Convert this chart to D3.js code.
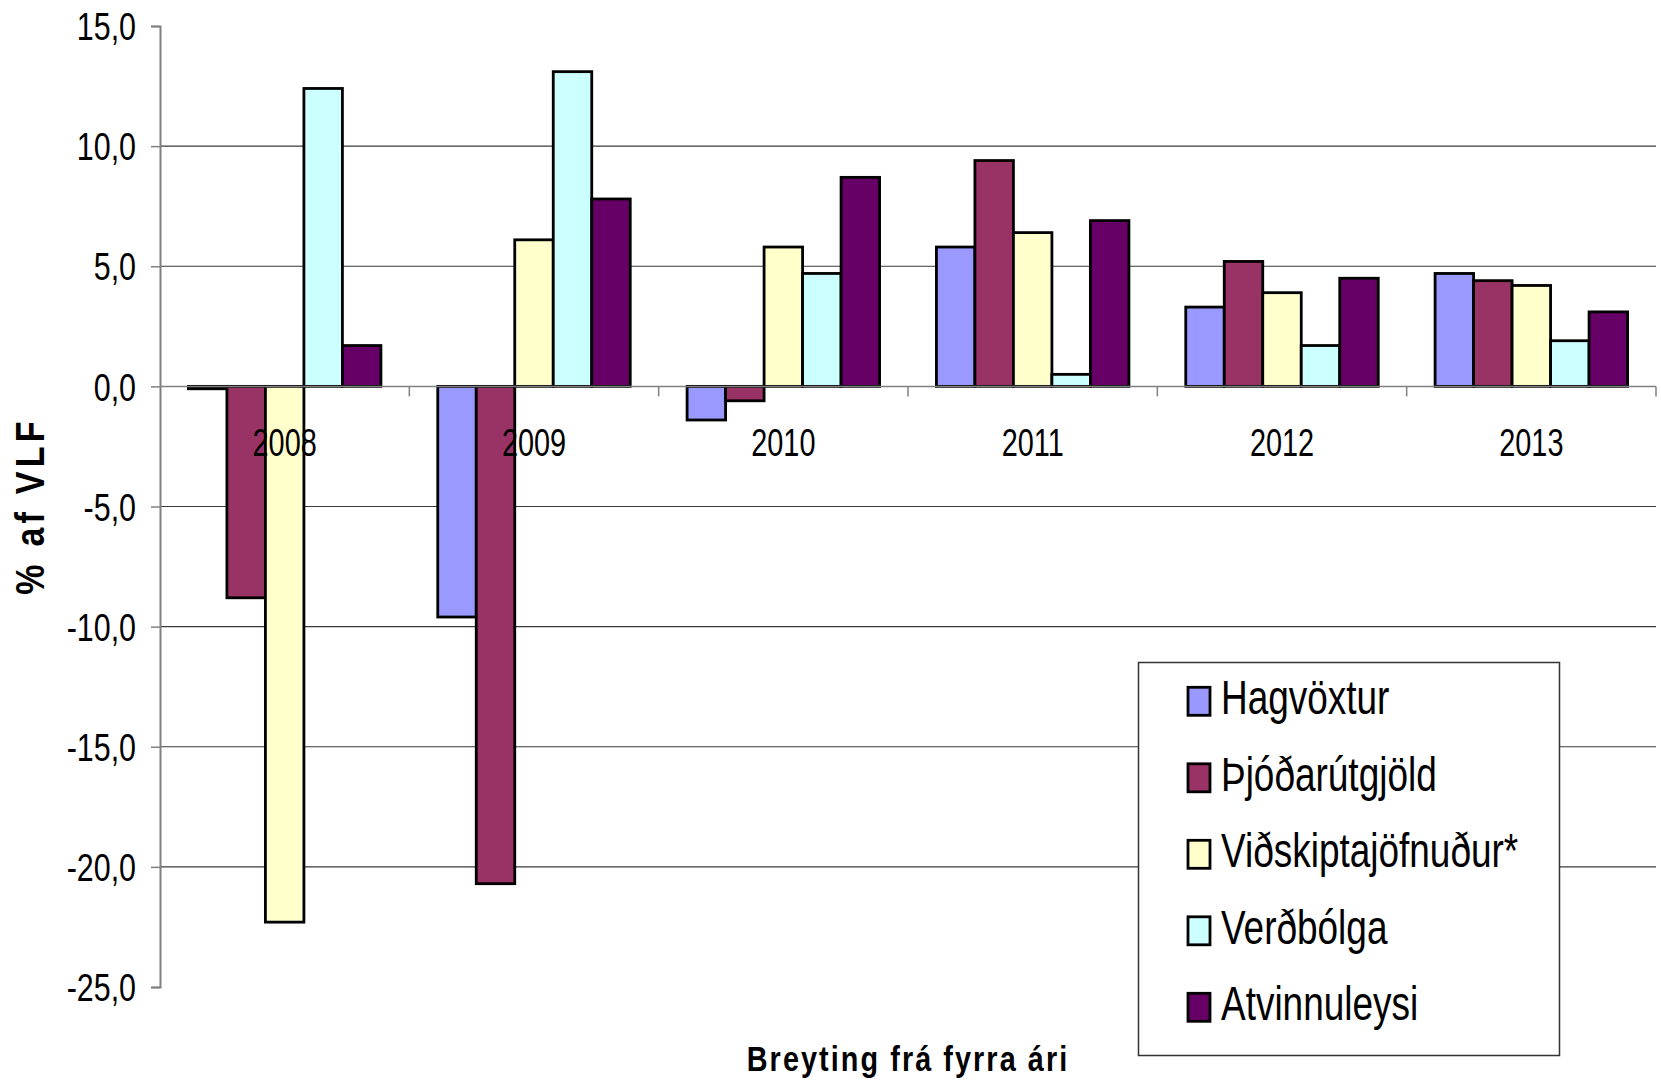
<!DOCTYPE html>
<html><head><meta charset="utf-8">
<script src="https://cdn.jsdelivr.net/npm/d3@7"></script>
<style>body{margin:0;background:#fff}</style>
</head><body>
<svg id="chart" width="1661" height="1084"></svg>
<script>
// ---- data ----
const categories = ["2008", "2009", "2010", "2011", "2012", "2013"];
const seriesNames = ["Hagvöxtur", "Þjóðarútgjöld", "Viðskiptajöfnuður*", "Verðbólga", "Atvinnuleysi"];
const hagvoxtur        = [-0.1, -9.6, -1.4, 5.8, 3.3, 4.7];
const thjodarutgjold   = [-8.8, -20.7, -0.6, 9.4, 5.2, 4.4];
const vidskiptajofnudur = [-22.3, 6.1, 5.8, 6.4, 3.9, 4.2];
const verdbolga        = [12.4, 13.1, 4.7, 0.5, 1.7, 1.9];
const atvinnuleysi     = [1.7, 7.8, 8.7, 6.9, 4.5, 3.1];
const yTicks = [15, 10, 5, 0, -5, -10, -15, -20, -25];
const yTitle = "% af VLF";
const xTitle = "Breyting frá fyrra ári";

// ---- style ----
const colors = ["#9999FF", "#993366", "#FFFFCC", "#CCFFFF", "#660066"];
const FONT = "'Liberation Sans', Arial, sans-serif";

const seriesValues = [hagvoxtur, thjodarutgjold, vidskiptajofnudur, verdbolga, atvinnuleysi];
const rows = [];
categories.forEach((c, ci) => seriesNames.forEach((s, si) => rows.push({cat: c, ser: s, si, v: seriesValues[si][ci]})));

const svg = d3.select("#chart");
const pLeft = 160, pRight = 1656, pTop = 26, pBottom = 987;

const x = d3.scaleBand().domain(categories).range([pLeft, pRight]).paddingInner(0).paddingOuter(0);
const bw = x.bandwidth();
const groupFrac = 0.772;
const pad = bw * (1 - groupFrac) / 2;
const xs = d3.scaleBand().domain(seriesNames).range([pad, bw - pad]).padding(0);
const y = d3.scaleLinear().domain([-25, 15]).range([pBottom, pTop]);

// gridlines
svg.append("g").selectAll("line")
  .data(yTicks.filter(t => t !== 15 && t !== 0 && t !== -25))
  .join("line")
  .attr("x1", pLeft).attr("x2", pRight)
  .attr("y1", d => y(d)).attr("y2", d => y(d))
  .attr("stroke", "#3a3a3a").attr("stroke-width", 1.2);

// y axis
const fmt = d => d3.format(".1f")(d).replace("\u2212", "-").replace(".", ",");
const yAxis = svg.append("g").attr("transform", `translate(${pLeft},0)`)
  .call(d3.axisLeft(y).tickValues(yTicks).tickSize(9).tickFormat(fmt));
yAxis.select(".domain").attr("stroke", "#808080").attr("stroke-width", 2);
yAxis.selectAll(".tick line").attr("stroke", "#808080").attr("stroke-width", 1.5);
const tsx = 0.8;
yAxis.selectAll(".tick text")
  .attr("font-family", FONT).attr("font-size", 38).attr("fill", "#000")
  .attr("text-anchor", "end")
  .attr("x", -24 / tsx).attr("dy", "0.36em")
  .attr("transform", `scale(${tsx},1)`);

// bars
svg.append("g").selectAll("rect")
  .data(rows)
  .join("rect")
  .attr("x", d => x(d.cat) + xs(d.ser))
  .attr("width", xs.bandwidth())
  .attr("y", d => y(Math.max(0, d.v)))
  .attr("height", d => Math.abs(y(d.v) - y(0)))
  .attr("fill", d => colors[d.si])
  .attr("stroke", "#000").attr("stroke-width", 2.8);

// category axis (zero line)
const y0 = y(0);
svg.append("line").attr("x1", pLeft).attr("x2", pRight).attr("y1", y0).attr("y2", y0)
  .attr("stroke", "#808080").attr("stroke-width", 1.5);
svg.append("g").selectAll("line")
  .data(categories.slice(1).map(c => x(c)).concat([pRight]))
  .join("line")
  .attr("x1", d => d).attr("x2", d => d)
  .attr("y1", y0).attr("y2", y0 + 10)
  .attr("stroke", "#808080").attr("stroke-width", 1.5);

const csx = 0.75;
svg.append("g").selectAll("text")
  .data(categories)
  .join("text")
  .attr("transform", d => `translate(${x(d) + bw / 2},${y0 + 70}) scale(${csx},1)`)
  .attr("text-anchor", "middle")
  .attr("font-family", FONT).attr("font-size", 38.5).attr("fill", "#000")
  .text(d => d);

// axis titles
svg.append("text")
  .attr("transform", `translate(44,506) rotate(-90) scale(0.85,1)`)
  .attr("text-anchor", "middle")
  .attr("font-family", FONT).attr("font-weight", "bold").attr("font-size", 40)
  .attr("letter-spacing", 5)
  .text(yTitle);

svg.append("text")
  .attr("transform", `translate(908,1071) scale(0.8,1)`)
  .attr("text-anchor", "middle")
  .attr("font-family", FONT).attr("font-weight", "bold").attr("font-size", 36)
  .attr("letter-spacing", 2.6)
  .text(xTitle);

// legend
const lg = svg.append("g");
lg.append("rect").attr("x", 1138.5).attr("y", 662.5).attr("width", 421).attr("height", 393)
  .attr("fill", "#fff").attr("stroke", "#333").attr("stroke-width", 1.5);
const items = lg.selectAll("g.item").data(seriesNames).join("g").attr("class", "item")
  .attr("transform", (d, i) => `translate(0,${714.3 + i * 76.5})`);
items.append("rect")
  .attr("x", 1188).attr("y", -27).attr("width", 22).attr("height", 28)
  .attr("fill", (d, i) => colors[i]).attr("stroke", "#000").attr("stroke-width", 2.8);
items.append("text")
  .attr("transform", "translate(1221,0) scale(0.77,1)")
  .attr("font-family", FONT).attr("font-size", 48).attr("fill", "#000")
  .text(d => d);
</script>
</body></html>
